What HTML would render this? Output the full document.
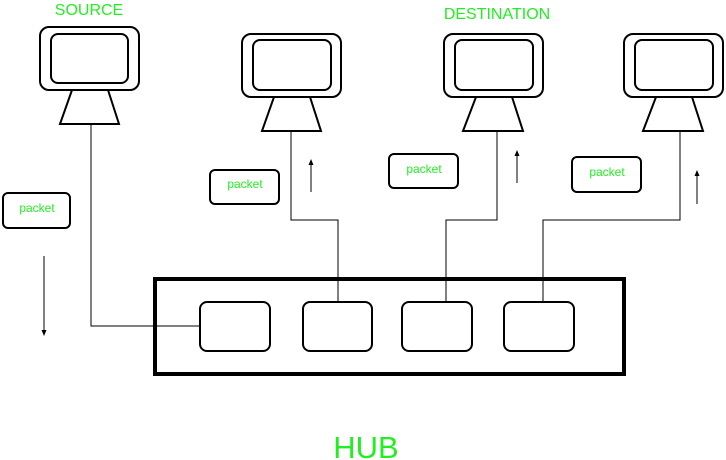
<!DOCTYPE html>
<html><head><style>body{margin:0;background:#fff}svg{display:block}text{font-family:"Liberation Sans",sans-serif;fill:#22ee22}</style></head><body>
<svg width="726" height="460" viewBox="0 0 726 460">
<defs><marker id="a" markerWidth="6" markerHeight="6" refX="3" refY="3" orient="auto"><path d="M0,0.5 L6,3 L0,5.5z" fill="#000"/></marker></defs>
<g fill="none" stroke="#000" stroke-width="2">
<rect x="40" y="27" width="99" height="63" rx="9"/><rect x="51" y="34" width="77" height="49" rx="7"/>
<path d="M72,90 L108,90 L119,124 L60,124 Z"/>
<rect x="242" y="34" width="99" height="63" rx="9"/><rect x="253" y="40" width="78" height="50" rx="7"/>
<path d="M274,97 L310,97 L321,131 L262,131 Z"/>
<rect x="444" y="34" width="99" height="63" rx="9"/><rect x="455" y="40" width="78" height="50" rx="7"/>
<path d="M476,97 L512,97 L523,131 L463,131 Z"/>
<rect x="624" y="34" width="99" height="63" rx="9"/><rect x="635" y="40" width="78" height="50" rx="7"/>
<path d="M656,97 L692,97 L703,131 L643,131 Z"/>
<rect x="155" y="279" width="469" height="95" stroke-width="4"/>
<rect x="200" y="302" width="70" height="49" rx="7"/>
<rect x="303" y="302" width="69" height="49" rx="7"/>
<rect x="402" y="302" width="70" height="49" rx="7"/>
<rect x="504" y="302" width="70" height="49" rx="7"/>
<rect x="3" y="193" width="67" height="35" rx="5"/>
<rect x="210" y="170" width="69" height="34" rx="5"/>
<rect x="389" y="154" width="69" height="34" rx="5"/>
<rect x="572" y="157" width="69" height="35" rx="5"/>
</g>
<g fill="none" stroke="#000" stroke-width="1">
<path d="M91,124 V326 H200"/>
<path d="M291,131 V220 H338 V302"/>
<path d="M497,131 V220 H446 V302"/>
<path d="M680,131 V220 H543 V302"/>
<path d="M44,256 V333" marker-end="url(#a)"/>
<path d="M311,192 V162" marker-end="url(#a)"/>
<path d="M517,183 V153" marker-end="url(#a)"/>
<path d="M697,204 V173" marker-end="url(#a)"/>
</g>
<text x="89" y="15" font-size="16" text-anchor="middle">SOURCE</text>
<text x="497" y="19" font-size="16" text-anchor="middle">DESTINATION</text>
<text x="366" y="458" font-size="31" text-anchor="middle">HUB</text>
<g font-size="12" text-anchor="middle">
<text x="37" y="212">packet</text>
<text x="245" y="188">packet</text>
<text x="424" y="173">packet</text>
<text x="607" y="176">packet</text>
</g>
</svg>
</body></html>
